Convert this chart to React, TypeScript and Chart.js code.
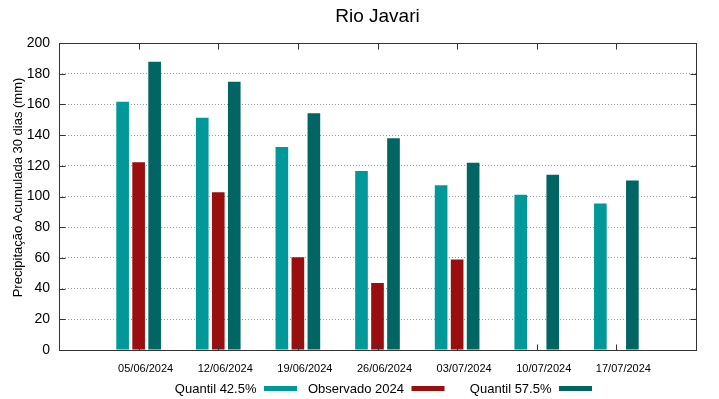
import React, { useEffect, useRef } from "react";
import { Chart, registerables } from "chart.js";

Chart.register(...registerables);

const TITLE = "Rio Javari";
const Y_TITLE = "Precipitação Acumulada 30 dias (mm)";
const CATEGORIES = [
  "05/06/2024",
  "12/06/2024",
  "19/06/2024",
  "26/06/2024",
  "03/07/2024",
  "10/07/2024",
  "17/07/2024",
];
const QUANTIL_425 = [161.8, 151.3, 132.2, 116.6, 107.3, 101.2, 95.5];
const OBSERVADO_2024: (number | null)[] = [122.3, 102.7, 60.5, 43.6, 58.9, null, null];
const QUANTIL_575 = [187.8, 174.8, 154.2, 137.9, 122.0, 114.2, 110.5];
const SERIES_NAMES = ["Quantil 42.5%", "Observado 2024", "Quantil 57.5%"];
const SERIES_COLORS = ["#009898", "#990e0e", "#006563"];
const Y_MIN = 0;
const Y_MAX = 200;
const Y_STEP = 20;

const FONT = "'Liberation Sans', Arial, sans-serif";

const pad = <T,>(arr: T[]): (T | null)[] => [null, ...arr, null];

const framePlugin = {
  id: "framePlugin",
  afterDraw(chart: any) {
    const ctx = chart.ctx as CanvasRenderingContext2D;
    const { left, right, top, bottom } = chart.chartArea;
    const xs = chart.scales.x;
    const ys = chart.scales.y;
    ctx.save();
    ctx.strokeStyle = "#333333";
    ctx.lineWidth = 1;
    const L = Math.round(left) + 0.5;
    const R = Math.round(right) + 0.5;
    const T = Math.round(top) + 0.5;
    const B = Math.round(bottom) + 0.5;
    ctx.strokeRect(L, T, R - L, B - T);
    ctx.beginPath();
    const tl = 6;
    for (let v = Y_MIN + Y_STEP; v < Y_MAX; v += Y_STEP) {
      const y = Math.round(ys.getPixelForValue(v)) + 0.5;
      ctx.moveTo(L, y);
      ctx.lineTo(L + tl, y);
      ctx.moveTo(R, y);
      ctx.lineTo(R - tl, y);
    }
    for (let i = 1; i <= CATEGORIES.length; i++) {
      const x = Math.round(xs.getPixelForValue(i)) + 0.5;
      ctx.moveTo(x, B);
      ctx.lineTo(x, B - tl);
      ctx.moveTo(x, T);
      ctx.lineTo(x, T + tl);
    }
    ctx.stroke();

    const cx = (left + right) / 2;

    // title
    ctx.fillStyle = "#000";
    ctx.font = `19px ${FONT}`;
    ctx.textAlign = "center";
    ctx.textBaseline = "alphabetic";
    ctx.fillText(TITLE, cx, 22);

    // y axis title
    ctx.save();
    ctx.translate(22, (top + bottom) / 2 - 9);
    ctx.rotate(-Math.PI / 2);
    ctx.font = `13px ${FONT}`;
    ctx.textAlign = "center";
    ctx.fillText(Y_TITLE, 0, 0);
    ctx.restore();

    // legend
    ctx.font = `13px ${FONT}`;
    ctx.textAlign = "right";
    ctx.textBaseline = "alphabetic";
    for (let i = 0; i < SERIES_NAMES.length; i++) {
      const sx = cx - 113.5 + i * 147.5;
      ctx.fillStyle = "#000";
      ctx.fillText(SERIES_NAMES[i], sx - 7.5, 392.5);
      ctx.fillStyle = SERIES_COLORS[i];
      ctx.fillRect(sx, 386, 33, 5);
    }
    ctx.restore();
  },
};

export default function App() {
  const canvasRef = useRef<HTMLCanvasElement | null>(null);

  useEffect(() => {
    document.body.style.margin = "0";
    const canvas = canvasRef.current;
    if (!canvas) return;
    const labels = ["", ...CATEGORIES, ""];
    const chart = new Chart(canvas, {
      type: "bar",
      data: {
        labels,
        datasets: [QUANTIL_425, OBSERVADO_2024, QUANTIL_575].map((d, i) => ({
          label: SERIES_NAMES[i],
          data: pad(d as (number | null)[]),
          backgroundColor: SERIES_COLORS[i],
          borderWidth: 0,
          categoryPercentage: 0.603,
          barPercentage: 0.79,
        })),
      },
      options: {
        responsive: false,
        animation: false,
        layout: { padding: { top: 43, right: 23, left: 0, bottom: 0 } },
        plugins: {
          legend: { display: false },
          title: { display: false },
          tooltip: { enabled: false },
        },
        scales: {
          x: {
            type: "category",
            offset: false,
            grid: { display: false, drawTicks: false },
            border: { display: false },
            ticks: {
              autoSkip: false,
              maxRotation: 0,
              minRotation: 0,
              color: "#000",
              font: { family: FONT, size: 11 },
              padding: 12,
              labelOffset: 7,
            },
            afterFit: (s: any) => {
              s.height = 49;
            },
          },
          y: {
            min: Y_MIN,
            max: Y_MAX,
            grid: {
              drawTicks: false,
              color: (c: any) =>
                c.tick && (c.tick.value === Y_MIN || c.tick.value === Y_MAX)
                  ? "rgba(0,0,0,0)"
                  : "#9a9a9a",
              lineWidth: 1,
            },
            border: { display: false, dash: [1, 2] },
            ticks: {
              stepSize: Y_STEP,
              color: "#000",
              font: { family: FONT, size: 14 },
              padding: 9,
            },
            title: { display: false },
            afterFit: (s: any) => {
              s.width = 59;
            },
          },
        },
      },
      plugins: [framePlugin],
    });
    return () => chart.destroy();
  }, []);

  return (
    <div style={{ width: 719, height: 399 }}>
      <canvas ref={canvasRef} width={719} height={399} style={{ display: "block" }} />
    </div>
  );
}
